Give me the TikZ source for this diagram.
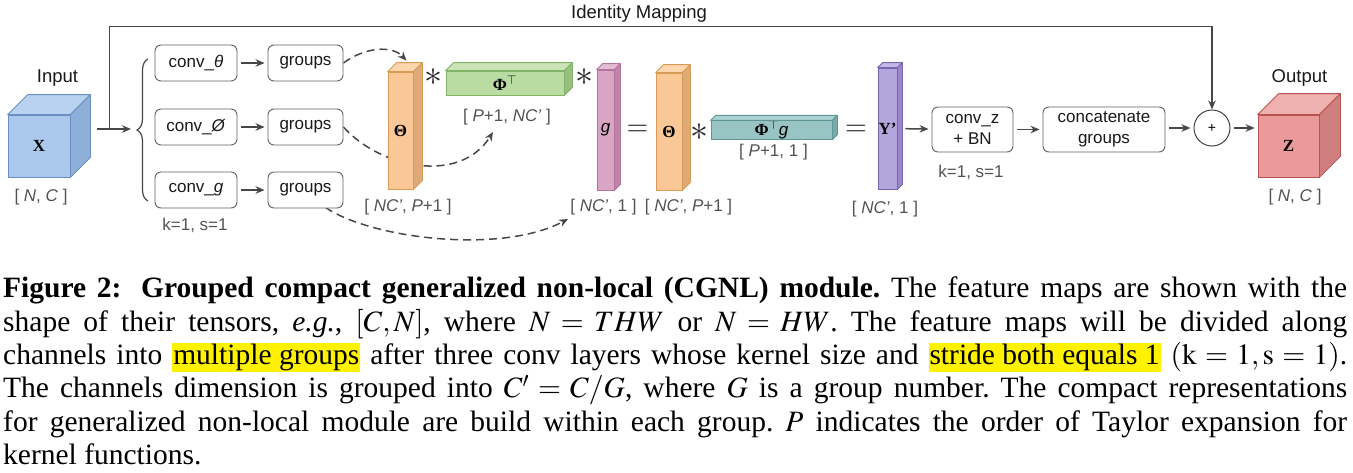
\documentclass[tikz,border=0pt]{standalone}
\usepackage{mathptmx}
\usepackage{fontspec}
\setmainfont{Liberation Serif}
\setsansfont{Liberation Sans}
\usetikzlibrary{arrows.meta,calc,backgrounds,decorations.pathreplacing}

\definecolor{bluefront}{HTML}{A9C8EC}
\definecolor{bluetop}{HTML}{B8D2F0}
\definecolor{blueside}{HTML}{8EAFD8}
\definecolor{blueline}{HTML}{6C8EBF}
\definecolor{orangefront}{HTML}{FAC896}
\definecolor{orangetop}{HTML}{FCD6AE}
\definecolor{orangeside}{HTML}{DDAA78}
\definecolor{orangeline}{HTML}{D79B55}
\definecolor{greenfront}{HTML}{B9DCA2}
\definecolor{greentop}{HTML}{C9E5B6}
\definecolor{greenside}{HTML}{96C07E}
\definecolor{greenline}{HTML}{82B366}
\definecolor{pinkfront}{HTML}{D8A6C4}
\definecolor{pinktop}{HTML}{E3BDD4}
\definecolor{pinkside}{HTML}{BC86A8}
\definecolor{pinkline}{HTML}{B5739D}
\definecolor{tealfront}{HTML}{98C4C4}
\definecolor{tealtop}{HTML}{ADD2D2}
\definecolor{tealside}{HTML}{7BAAAA}
\definecolor{tealline}{HTML}{5F9595}
\definecolor{purplefront}{HTML}{B3A6DC}
\definecolor{purpletop}{HTML}{C3B9E4}
\definecolor{purpleside}{HTML}{978AC6}
\definecolor{purpleline}{HTML}{7566AE}
\definecolor{redfront}{HTML}{EA9A9A}
\definecolor{redtop}{HTML}{EFB0B0}
\definecolor{redside}{HTML}{CF7E7E}
\definecolor{redline}{HTML}{B85450}
\definecolor{hlyellow}{HTML}{FFF200}

\tikzset{
  lbl/.style={font=\sffamily\fontsize{17}{20.5}\selectfont, text=black!90, inner sep=0pt},
  title/.style={lbl, font=\sffamily\fontsize{18.5}{22}\selectfont},
  dimlbl/.style={lbl, text=black!68},
  opbox/.style={draw=black!62, line width=0.9pt, rounded corners=6pt, fill=white,
    font=\sffamily\fontsize{17}{20.5}\selectfont, text=black!90, align=center, inner sep=0pt},
  arr/.style={draw=black!72, line width=1.5pt, -{Stealth[length=9pt,width=7.5pt]}},
  darr/.style={arr, dash pattern=on 8pt off 5pt},
  fmap/.style={draw, line width=0.8pt, inner sep=0pt, text=black,
    font=\rmfamily\bfseries\fontsize{17}{20}\selectfont},
  opsign/.style={inner sep=0pt, text=black!85},
}

% front face as a node, top and side faces drawn from its anchors
\newcommand{\featmap}[7]{%
  \node[fmap, fill=#6front, draw=#6line, minimum width=#3pt, minimum height=#4pt] (#1) at (#2) {#7};
  \filldraw[fill=#6top, draw=#6line, line width=0.8pt, line join=round]
    (#1.north west) -- ++(#5,-#5) -- ($(#1.north east)+(#5,-#5)$) -- (#1.north east) -- cycle;
  \filldraw[fill=#6side, draw=#6line, line width=0.8pt, line join=round]
    (#1.north east) -- ++(#5,-#5) -- ($(#1.south east)+(#5,-#5)$) -- (#1.south east) -- cycle;
}
\newcommand{\hlt}[1]{{\setlength{\fboxsep}{1pt}\colorbox{hlyellow}{#1}}}

\begin{document}
\begin{tikzpicture}[x=1pt,y=-1pt]
\useasboundingbox (0,0) rectangle (1353,472);

% input and output tensors
\featmap{X}{39,146}{62}{62}{20}{blue}{X}
\featmap{Z}{1288.5,146}{61}{62}{21}{red}{Z}
\node[title, anchor=base] (inlbl) at (57.5,82) {Input};
\node[title, anchor=base] (outlbl) at (1299.5,82) {Output};
\node[dimlbl, anchor=base] (xdim) at (41,201) {[ \textit{N}, \textit{C} ]};
\node[dimlbl, anchor=base] (zdim) at (1295,201) {[ \textit{N}, \textit{C} ]};

% three branches
\node[opbox, minimum width=82pt, minimum height=36pt] (convth) at (196,63) {conv\_\textit{θ}};
\node[opbox, minimum width=82pt, minimum height=36pt] (convph) at (196,127) {conv\_\textit{Ø}};
\node[opbox, minimum width=82pt, minimum height=36pt] (convg) at (196,190) {conv\_\textit{g}};
\node[opbox, minimum width=75pt, minimum height=36pt] (grpth) at (305.5,63) {groups};
\node[opbox, minimum width=75pt, minimum height=36pt] (grpph) at (305.5,127) {groups};
\node[opbox, minimum width=75pt, minimum height=36pt] (grpg) at (305.5,190) {groups};
\node[dimlbl, anchor=base] (convk) at (195,230) {k=1, s=1};

\draw[black!72, line width=1.2pt, decorate, decoration={brace, amplitude=11pt}]
  (148,201) -- (148,59);

% compact representation
\featmap{th1}{400.5,130.5}{25}{117}{9}{orange}{Θ}
\featmap{phi}{505,83}{118}{24}{8}{green}{Φ$^{\top}$}
\featmap{gmap}{605.5,130}{17}{120}{6}{pink}{{\sffamily\mdseries\itshape g}}
\featmap{th2}{669,131.5}{26}{117}{8}{orange}{Θ}
\featmap{phig}{771.5,130}{121}{18}{5}{teal}{Φ$^{\top}${\sffamily\mdseries\itshape g}}
\featmap{ym}{887.5,128.5}{19}{121}{5}{purple}{Y’}

\node[dimlbl, anchor=base] (th1dim) at (408,211) {[ \textit{NC'}, \textit{P}+1 ]};
\node[dimlbl, anchor=base] (phidim) at (507,121) {[ \textit{P}+1, \textit{NC'} ]};
\node[dimlbl, anchor=base] (gdim) at (603.5,211) {[ \textit{NC'}, 1 ]};
\node[dimlbl, anchor=base] (th2dim) at (688.5,211) {[ \textit{NC'}, \textit{P}+1 ]};
\node[dimlbl, anchor=base] (phigdim) at (773.5,156) {[ \textit{P}+1, 1 ]};
\node[dimlbl, anchor=base] (ydim) at (885,213) {[ \textit{NC'}, 1 ]};

\node[opsign, font=\fontsize{36}{36}\selectfont] (mul1) at (433,77) {$\ast$};
\node[opsign, font=\fontsize{36}{36}\selectfont] (mul2) at (584,77) {$\ast$};
\node[opsign, font=\fontsize{36}{36}\selectfont] (mul3) at (699,132) {$\ast$};
\node[opsign, font=\fontsize{28}{28}\selectfont] (eq1) at (637.5,130) {$=$};
\node[opsign, font=\fontsize{28}{28}\selectfont] (eq2) at (856,130) {$=$};

% output side
\node[opbox, minimum width=81pt, minimum height=45pt] (convz) at (972.5,129.5) {conv\_z\\+ BN};
\node[opbox, minimum width=122pt, minimum height=45pt] (concat) at (1104,129.5) {concatenate\\groups};
\node[dimlbl, anchor=base] (convzk) at (971,177) {k=1, s=1};
\node[circle, draw=black!75, line width=1pt, minimum size=36pt, inner sep=0pt,
  font=\sffamily\fontsize{14}{14}\selectfont] (plus) at (1212,128) {+};

% connectors
\coordinate (xout) at ($(X.east)+(27,-17)$);
\coordinate (branch) at ($(xout)+(12,0)$);
\coordinate (split) at (131,129);
\draw[arr] (xout) -- (split);
\draw[arr] (branch) |- ($(plus.north)+(0,-83)$) -- (plus.north);
\node[title, anchor=base] (idmap) at (639,18) {Identity Mapping};

\draw[arr, shorten <=4pt, shorten >=3pt] (convth) -- (grpth);
\draw[arr, shorten <=4pt, shorten >=3pt] (convph) -- (grpph);
\draw[arr, shorten <=4pt, shorten >=3pt] (convg) -- (grpg);
\draw[arr, shorten <=8pt, shorten >=3pt] (ym) -- (convz);
\draw[arr, shorten <=4pt, shorten >=3pt] (convz) -- (concat);
\draw[arr, shorten <=4pt, shorten >=3pt] (concat.east |- plus) -- (plus.west);
\draw[arr, shorten <=3pt, shorten >=3pt] (plus.east) -- (plus.east -| Z.west);

\begin{pgfonlayer}{background}
\coordinate (th1in) at ($(th1.north)+(6,-11)$);
\coordinate (phiin) at (493,132);
\coordinate (gin) at (568,219);
\draw[darr] (grpth.east) .. controls (365,47) and (392,45) .. (th1in);
\draw[darr] (grpph.east) .. controls (380,168) and (460,185) .. (phiin);
\draw[darr] ($(grpg.south east)+(-18,-1)$) .. controls (370,238) and (500,255) .. (gin);
\end{pgfonlayer}

% caption
\node[anchor=north west, inner sep=0pt, text width=1344pt, align=justify,
  font=\rmfamily\fontsize{29.5}{33.3}\selectfont] (caption) at (3,277)
{\frenchspacing\hyphenpenalty=10000 \exhyphenpenalty=10000
\textbf{Figure 2:\hspace{0.3em} Grouped compact generalized non-local (CGNL) module.} The feature maps are shown with the\linebreak
shape of their tensors, \textit{e.g.}, $[C,N]$, where $N=THW$ or $N=HW$. The feature maps will be divided along\linebreak
channels into \hlt{multiple groups} after three conv layers whose kernel size and \hlt{stride both equals 1} $(\mathrm{k}=1,\mathrm{s}=1)$.\linebreak
The channels dimension is grouped into $C'=C/G$, where $G$ is a group number. The compact representations\linebreak
for generalized non-local module are build within each group. $P$ indicates the order of Taylor expansion for\linebreak
kernel functions.};
\end{tikzpicture}
\end{document}
